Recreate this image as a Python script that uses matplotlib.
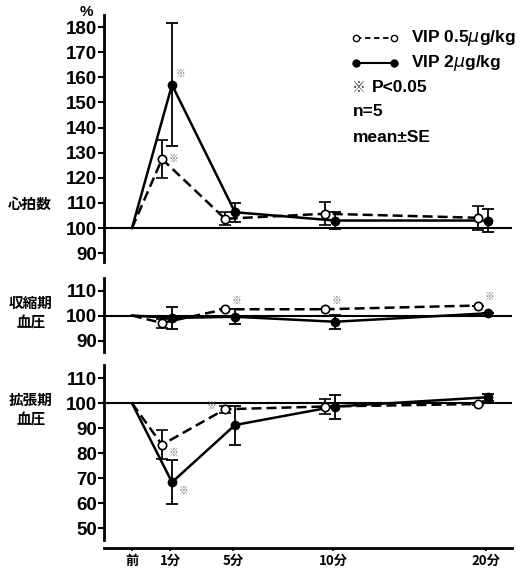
import matplotlib
matplotlib.use('Agg')
from matplotlib import pyplot as plt
from matplotlib.lines import Line2D

# 時間 (前, 1分, 5分, 10分, 20分)
times = ['前', '1分', '5分', '10分', '20分']

# 心拍数 (%)
hr_low = [100, 127.5, 103.7, 105.7, 104.1]
hr_low_se = [0, 7.7, 2.5, 4.6, 4.7]
hr_high = [100, 157, 106.3, 103, 103]
hr_high_se = [0, 24.5, 3.7, 3.5, 4.7]

# 収縮期血圧 (%)
sbp_low = [100, 97, 102.5, 102.5, 104]
sbp_low_se = [0, 1.8, 0, 0, 0]
sbp_high = [100, 99, 99.5, 97.5, 100.9]
sbp_high_se = [0, 4.4, 3, 2.8, 0]

# 拡張期血圧 (%)
dbp_low = [100, 83.4, 97.6, 98.7, 99.7]
dbp_low_se = [0, 5.8, 1.5, 3, 0.5]
dbp_high = [100, 68.4, 91.3, 98.7, 102.4]
dbp_high_se = [0, 8.8, 7.8, 4.8, 1.5]

# 有意差の印 (系列, 時点) -> ※
sig_hr = [('high', 1), ('low', 1)]
sig_sbp = [('low', 2), ('low', 3), ('low', 4)]
sig_dbp = [('low', 1), ('high', 1), ('low', 2)]

# レイアウト (ピクセル単位)
W, H = 520, 572
x_slot = [0, 38, 101, 201, 354]
off_low, off_high = -8, 2
LAT = ['Liberation Sans', 'Noto Sans CJK JP', 'DejaVu Sans']
JP = ['Noto Sans CJK JP', 'DejaVu Sans']

fig = plt.figure(figsize=(W / 100, H / 100), dpi=100)


def px_axes(top, bottom):
    return fig.add_axes([104 / W, 1 - bottom / H, (512 - 104) / W, (bottom - top) / H])


def draw_panel(ax, low, low_se, high, high_se, sig, ylim, yticks):
    xl = [x_slot[0]] + [x + off_low for x in x_slot[1:]]
    xh = [x_slot[0]] + [x + off_high for x in x_slot[1:]]
    ax.axhline(100, color='black', lw=1.5, zorder=1)
    ax.plot(xl, low, color='black', lw=1.8, ls=(0, (4, 2)), zorder=2)
    ax.plot(xh, high, color='black', lw=1.8, zorder=2)
    ax.errorbar(xl[1:], low[1:], yerr=low_se[1:], fmt='o', color='black', mfc='white',
                mec='black', ms=6, mew=1.2, ecolor='black', elinewidth=1.3, capsize=4,
                capthick=1.3, zorder=3)
    ax.errorbar(xh[1:], high[1:], yerr=high_se[1:], fmt='o', color='black', ms=6,
                ecolor='black', elinewidth=1.3, capsize=4, capthick=1.3, zorder=3)
    for ser, i in sig:
        if ser == 'low':
            xy = (xl[i], low[i])
        else:
            xy = (xh[i], high[i])
        if (ser, i) == ('low', 2) and ylim[0] < 60:
            off = (-10, 2)
        elif ser == 'high' and ylim[1] > 150:
            off = (6, 8)
        elif ylim[0] < 60:
            off = (8, -6)
        elif ylim[1] < 120:
            off = (8, 6)
        else:
            off = (8, 0)
        ax.annotate('※', xy=xy, xytext=off, textcoords='offset points', ha='center',
                    va='center', fontsize=7, color='#777777', family=JP)
    ax.set_xlim(-28, 380)
    ax.set_ylim(*ylim)
    ax.set_yticks(yticks)
    ax.set_yticklabels([str(t) for t in yticks], family=LAT, fontweight='bold', fontsize=13.5)
    ax.tick_params(axis='y', direction='out', length=4, width=1.5, pad=1)
    for s in ['top', 'right', 'bottom']:
        ax.spines[s].set_visible(False)
    ax.spines['left'].set_linewidth(2)
    ax.set_xticks([])
    ax.patch.set_alpha(0)


ax1 = px_axes(15, 262)
draw_panel(ax1, hr_low, hr_low_se, hr_high, hr_high_se, sig_hr,
           (86.5, 184.8), list(range(90, 190, 10)))
ax2 = px_axes(278, 352)
draw_panel(ax2, sbp_low, sbp_low_se, sbp_high, sbp_high_se, sig_sbp,
           (85.4, 115), [90, 100, 110])
ax3 = px_axes(365, 540)
draw_panel(ax3, dbp_low, dbp_low_se, dbp_high, dbp_high_se, sig_dbp,
           (45.3, 115.3), list(range(50, 120, 10)))

# 横軸
ax3.spines['bottom'].set_visible(True)
ax3.spines['bottom'].set_position(('outward', 6))
ax3.spines['bottom'].set_linewidth(2)
ax3.set_xticks(x_slot)
ax3.set_xticklabels(times, family=JP, fontweight='bold', fontsize=9.5)
ax3.tick_params(axis='x', direction='out', length=2.5, width=1.2, pad=1.5)


def ftext(x, y, s, **kw):
    fig.text(x / W, 1 - y / H, s, **kw)


ftext(86, 12, '%', family=LAT, fontweight='bold', fontsize=11, ha='center', va='center')
ftext(30, 204, '心拍数', family=JP, fontweight='bold', fontsize=10.5, ha='center', va='center')
ftext(31, 313, '収縮期\n血圧', family=JP, fontweight='bold', fontsize=10.5, ha='center',
      va='center', linespacing=1.25)
ftext(31, 410, '拡張期\n血圧', family=JP, fontweight='bold', fontsize=10.5, ha='center',
      va='center', linespacing=1.25)

# 凡例
leg = fig.add_axes([0, 0, 1, 1])
leg.set_xlim(0, W)
leg.set_ylim(H, 0)
leg.axis('off')
leg.add_line(Line2D([356, 394], [38, 38], color='black', lw=1.3, ls=(0, (3, 2))))
leg.plot([356, 394], [38, 38], 'o', color='black', mfc='white', ms=4.5, mew=1)
leg.add_line(Line2D([356, 394], [63, 63], color='black', lw=1.5))
leg.plot([356, 394], [63, 63], 'o', color='black', ms=5)
tk = dict(family=LAT, fontweight='bold', fontsize=12.5, va='center', ha='left')
leg.text(411, 38, 'VIP 0.5$\\mu$g/kg', **tk)
leg.text(411, 63, 'VIP 2$\\mu$g/kg', **tk)
leg.text(352, 88, '※', family=JP, fontsize=10, color='#444444', va='center', ha='left')
leg.text(372, 88, 'P<0.05', **tk)
leg.text(353, 112, 'n=5', **tk)
leg.text(353, 138, 'mean±SE', **tk)

fig.savefig('out.png', dpi=100)
